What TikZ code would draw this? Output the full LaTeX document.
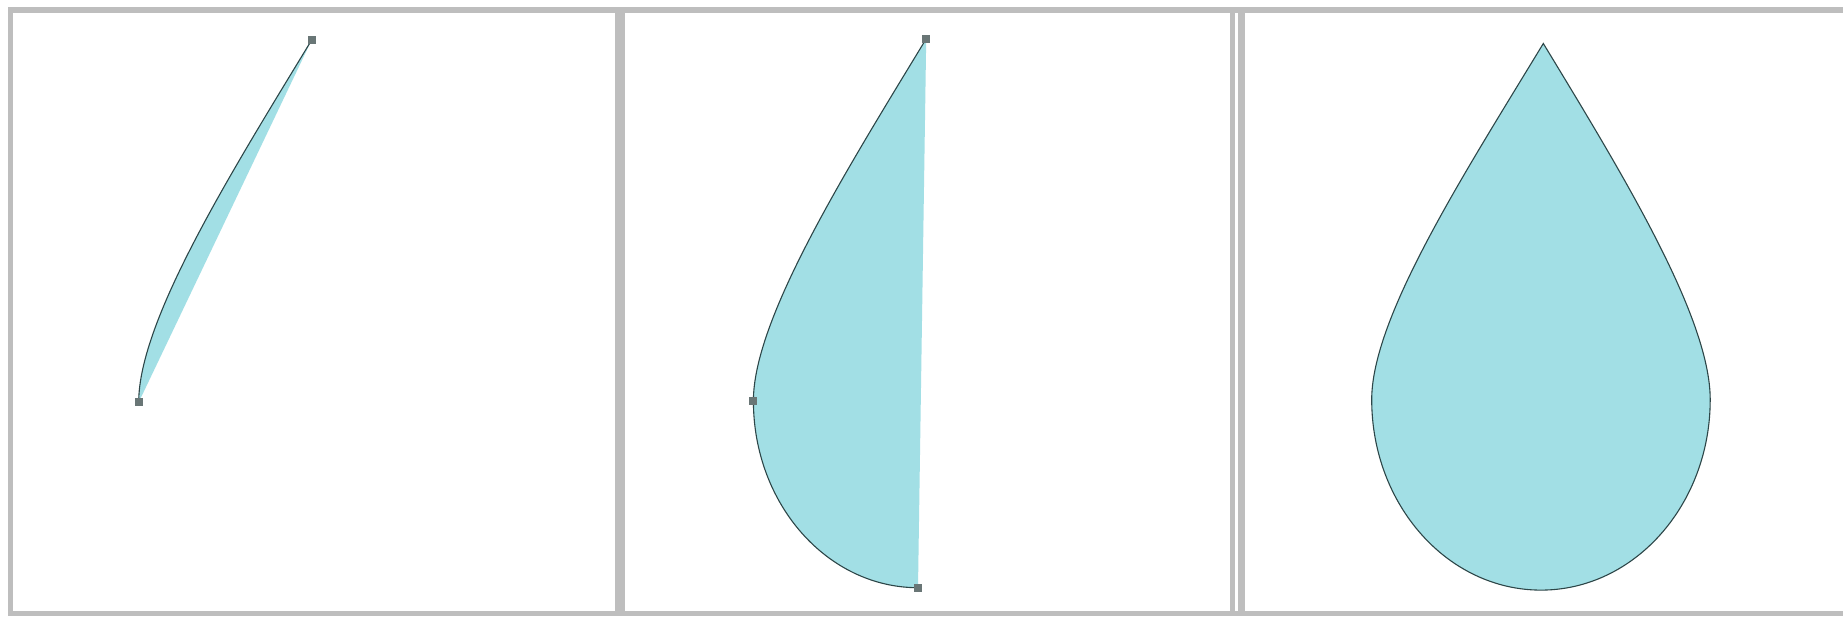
\documentclass[tikz,border=0pt]{standalone}
\usetikzlibrary{calc}
\definecolor{frame}{RGB}{190,190,190}
\definecolor{dropfill}{RGB}{162,223,229}
\definecolor{dropline}{RGB}{45,70,72}
\definecolor{handle}{RGB}{105,118,118}
\tikzset{
  frm/.style={fill=frame, draw=none},
  drop/.style={fill=dropfill, draw=none},
  edge/.style={draw=dropline, line width=1.1pt},
  hdl/.style={rectangle, fill=handle, minimum size=8pt, inner sep=0pt, draw=none},
}
\begin{document}
\begin{tikzpicture}[x=1pt,y=-1pt]
\useasboundingbox (0,0) rectangle (1843,616);
\fill[white] (0,0) rectangle (1843,616);
% frames
\path[frm] (8,7) rectangle (1843,13);
\path[frm] (8,7) rectangle (13,616);
\path[frm] (8,611) rectangle (1843,616);
\path[frm] (615,7) rectangle (625,616);
\path[frm] (1230,7) rectangle (1235,616);
\path[frm] (1238,7) rectangle (1245,616);

% panel 2
\coordinate (T2) at (926.2,38.8);
\coordinate (L2) at (753.4,400.8);
\coordinate (B2) at (918,587.7);
\path[drop] (T2) .. controls (846.3,170.4) and (753.4,318.5) .. (L2)
  .. controls (753.4,504.2) and (827.5,587.7) .. (B2) -- cycle;
\draw[edge] (T2) .. controls (846.3,170.4) and (753.4,318.5) .. (L2)
  .. controls (753.4,504.2) and (827.5,587.7) .. (B2);
\node[hdl] (h2t) at (T2) {};
\node[hdl] (h2l) at (L2) {};
\node[hdl] (h2b) at (B2) {};

% panel 1
\begin{scope}[shift={(-614.7,1.5)}]
\coordinate (T1) at (926.2,38.8);
\coordinate (L1) at (753.4,400.8);
\path[drop] (T1) .. controls (846.3,170.4) and (753.4,318.5) .. (L1) -- cycle;
\draw[edge] (T1) .. controls (846.3,170.4) and (753.4,318.5) .. (L1);
\node[hdl] (h1t) at (T1) {};
\node[hdl] (h1l) at (L1) {};
\end{scope}

% panel 3
\path[drop,edge] (1543.3,43.5) .. controls (1463.4,175.1) and (1371.7,317.4) .. (1371.7,399.6)
  .. controls (1371.7,504.7) and (1447.5,590.1) .. (1541.0,590.1)
  .. controls (1634.4,590.1) and (1710.2,504.7) .. (1710.2,399.6)
  .. controls (1710.2,317.4) and (1623.2,175.1) .. (1543.3,43.5) -- cycle;
\end{tikzpicture}
\end{document}
